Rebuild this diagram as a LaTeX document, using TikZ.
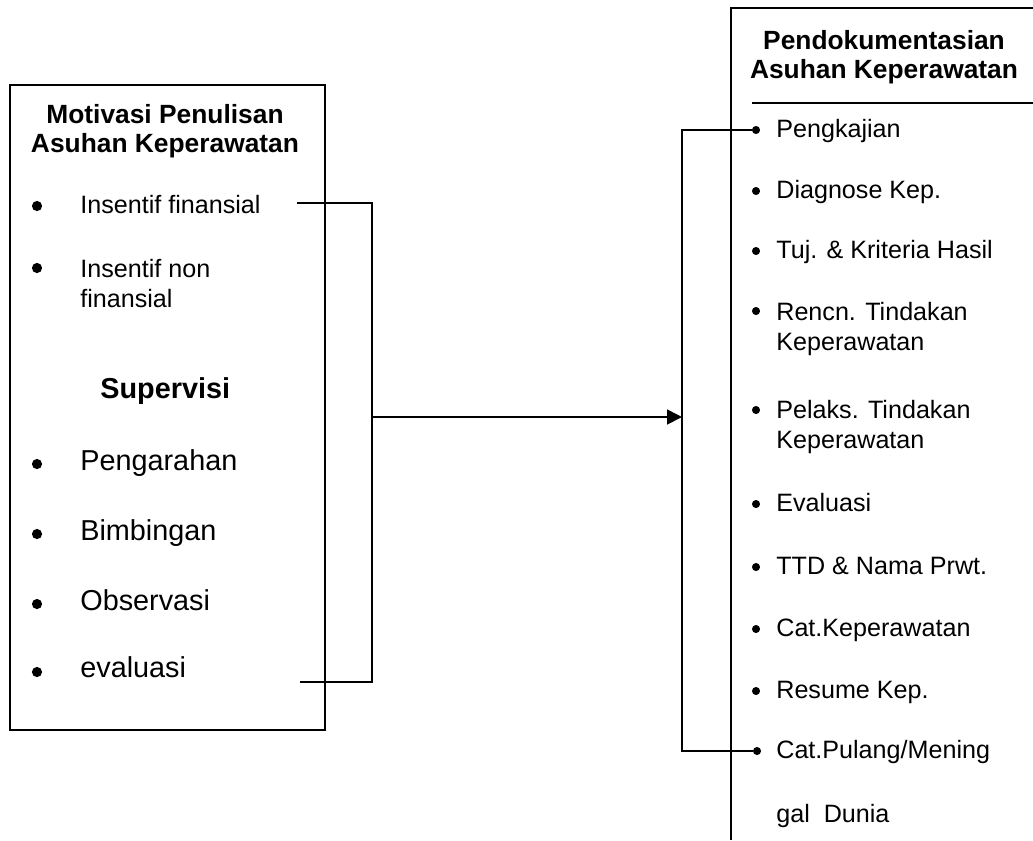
\documentclass[tikz,border=0pt]{standalone}
\usepackage{fontspec}
\setmainfont{Liberation Sans}
\usetikzlibrary{arrows.meta, positioning}

\begin{document}
\begin{tikzpicture}[
        x=0.02cm, y=-0.02cm,
        box/.style={rectangle, draw=black, line width=1pt, minimum width=6.3cm, minimum height=12.9cm, inner sep=0pt},
        title/.style={align=center, inner sep=0pt, font=\fontsize{15}{16.4}\selectfont\bfseries},
        item/.style={anchor=base west, inner sep=0pt, font=\fontsize{14.3}{17}\selectfont},
        bigitem/.style={anchor=base west, inner sep=0pt, font=\fontsize{16.4}{18}\selectfont},
        bul/.style={circle, fill=black, inner sep=0pt, minimum size=#1},
        bul/.default=4.6pt,
        line/.style={line width=1pt, draw=black},
        arr/.style={-{Triangle[length=3mm, width=3mm]}, line width=1pt, draw=black}
    ]
        \useasboundingbox (0,0) rectangle (1033,840);

        % left box
        \node[box] (lbox) at (167.5,407.5) {};
        \node[title] (ltitle) at (165,131) {Motivasi Penulisan\\Asuhan Keperawatan};

        \node[bul=5.8pt] (b-fin) at (37,206) {};
        \node[item] (fin) at (80,213) {Insentif finansial};
        \node[bul=5.8pt] (b-nonfin) at (37,268) {};
        \node[item, align=left] (nonfin) at (80,307) {Insentif non\\finansial};

        \node[bigitem, font=\fontsize{16.4}{18}\selectfont\bfseries] (sup) at (100,398) {Supervisi};
        \node[bul=5.8pt] (b-arah) at (37,464) {};
        \node[bigitem] (arah) at (80,470) {Pengarahan};
        \node[bul=5.8pt] (b-bimb) at (37,534) {};
        \node[bigitem] (bimb) at (80,540) {Bimbingan};
        \node[bul=5.8pt] (b-obs) at (37,604) {};
        \node[bigitem] (obs) at (80,610) {Observasi};
        \node[bul=5.8pt] (b-eva) at (37,672) {};
        \node[bigitem] (eva) at (80,677) {evaluasi};

        % right box (runs off the page)
        \draw[line] (731,840) |- (1033,8);
        \draw[line] (752,103) -- (1033,103);
        \node[title] (rtitle) at (884,57) {Pendokumentasian\\Asuhan Keperawatan};

        \node[bul] (b-pk) at (756,130) {};
        \node[item] (pk) at (776,137) {Pengkajian};
        \node[bul] (b-dx) at (756,191) {};
        \node[item] (dx) at (776,198) {Diagnose Kep.};
        \node[bul] (b-tuj) at (756,251) {};
        \node[item] (tuj) at (776,258) {Tuj. \& Kriteria Hasil};
        \node[bul] (b-ren) at (756,311) {};
        \node[item, align=left] (ren) at (776,350) {Rencn. Tindakan\\Keperawatan};
        \node[bul] (b-pel) at (756,410) {};
        \node[item, align=left] (pel) at (776,448) {Pelaks. Tindakan\\Keperawatan};
        \node[bul] (b-ev) at (756,504) {};
        \node[item] (ev) at (776,511) {Evaluasi};
        \node[bul] (b-ttd) at (756,567) {};
        \node[item] (ttd) at (776,574) {TTD \& Nama Prwt.};
        \node[bul] (b-cat) at (756,629) {};
        \node[item] (cat) at (776,636) {Cat.Keperawatan};
        \node[bul] (b-res) at (756,691) {};
        \node[item] (res) at (776,698) {Resume Kep.};
        \node[bul] (b-plg) at (757,751) {};
        \node[item] (plg) at (776,758) {Cat.Pulang/Mening};
        \node[item] (dun) at (776,822) {gal\ \ Dunia};

        % connectors
        \coordinate (fin-end) at (297,203);
        \coordinate (eva-end) at (300,682);
        \coordinate (join) at (372,417);
        \coordinate (bar) at (682,417);

        \draw[line] (fin-end) -| (join);
        \draw[line] (eva-end) -| (join);
        \draw[arr] (join) -- (bar);
        \draw[line] (b-pk) -| (bar);
        \draw[line] (b-plg) -| (bar);
    \end{tikzpicture}
\end{document}
